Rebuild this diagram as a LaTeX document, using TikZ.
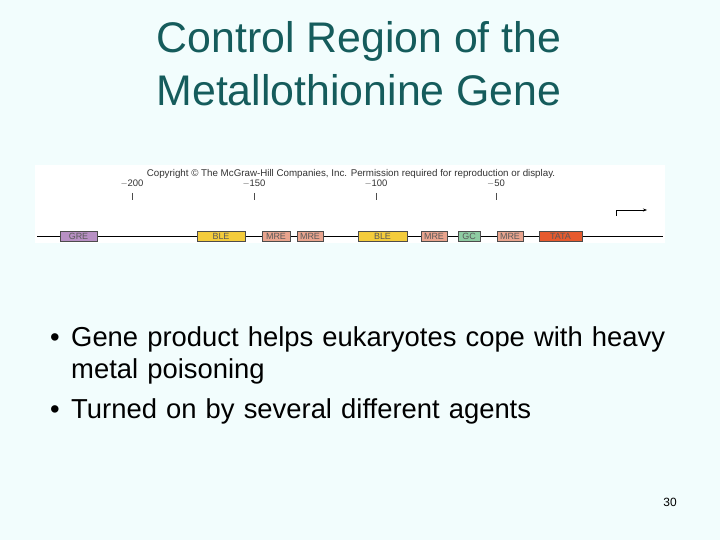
\documentclass[tikz,border=0pt]{standalone}
\usepackage{fontspec}
\usetikzlibrary{arrows.meta}
\setmainfont{Liberation Sans}
\definecolor{bg}{HTML}{F2FDFD}
\definecolor{ttl}{HTML}{155C5C}
\definecolor{gre}{HTML}{B890C4}
\definecolor{ble}{HTML}{F4CC3C}
\definecolor{mre}{HTML}{E9A48E}
\definecolor{gc}{HTML}{8ECBA2}
\definecolor{tata}{HTML}{E65A2E}
\begin{document}
\begin{tikzpicture}[x=1bp,y=-1bp,
  el/.style={draw=black!70,line width=0.5pt,minimum height=10bp,inner sep=0pt,font=\fontsize{9}{9}\selectfont,text=black!65},
  tick/.style={line width=0.4pt,black!70},
  lbl/.style={font=\fontsize{9.5}{9.5}\selectfont,text=black!80}]
\fill[bg] (0,0) rectangle (720,540);
\useasboundingbox (0,0) rectangle (720,540);
\node[text=ttl,font=\fontsize{43}{53}\selectfont,align=center] (title) at (359,64) {Control Region of the\\Metallothionine Gene};
\fill[white] (35,165) rectangle (665,243);
\node[lbl,font=\fontsize{9.8}{10}\selectfont] (copy) at (351,174) {Copyright \copyright\ The McGraw-Hill Companies, Inc. Permission required for reproduction or display.};
\foreach \x/\t [count=\i] in {132/$-$200,254/$-$150,376/$-$100,496/$-$50}{
  \node[lbl] (t\i) at (\x,184) {\t};
  \draw[tick] (\x,193) -- (\x,200);
}
\coordinate (l0) at (37,236);
\coordinate (l1) at (663,236);
\draw[line width=1pt] (l0) -- (l1);
\foreach \a/\b/\c/\t [count=\i] in {60/97/gre/GRE,197/245/ble/BLE,262/290/mre/MRE,297/323/mre/MRE,358/407/ble/BLE,421/447/mre/MRE,458/480/gc/GC,497/523/mre/MRE,539/582/tata/TATA}{
  \pgfmathsetmacro\w{\b-\a}
  \node[el,fill=\c,minimum width=\w bp] (e\i) at ({(\a+\b)/2},236) {\t};
}
\coordinate (a0) at (616,216);
\coordinate (a1) at (616,210);
\coordinate (a2) at (647,210);
\draw[line width=0.6pt,-{Stealth[length=4bp]}] (a0) -- (a1) -- (a2);
\node[anchor=north west,font=\fontsize{27.5}{33}\selectfont,text width=660bp,inner sep=0pt] (bul) at (50,326) {%
\makebox[21bp][l]{\textbullet}Gene product helps eukaryotes cope with heavy\\
\hspace*{21bp}metal poisoning\\[7bp]
\makebox[21bp][l]{\textbullet}Turned on by several different agents};
\node[font=\fontsize{12}{12}\selectfont] (pg) at (670,502) {30};
\end{tikzpicture}
\end{document}
